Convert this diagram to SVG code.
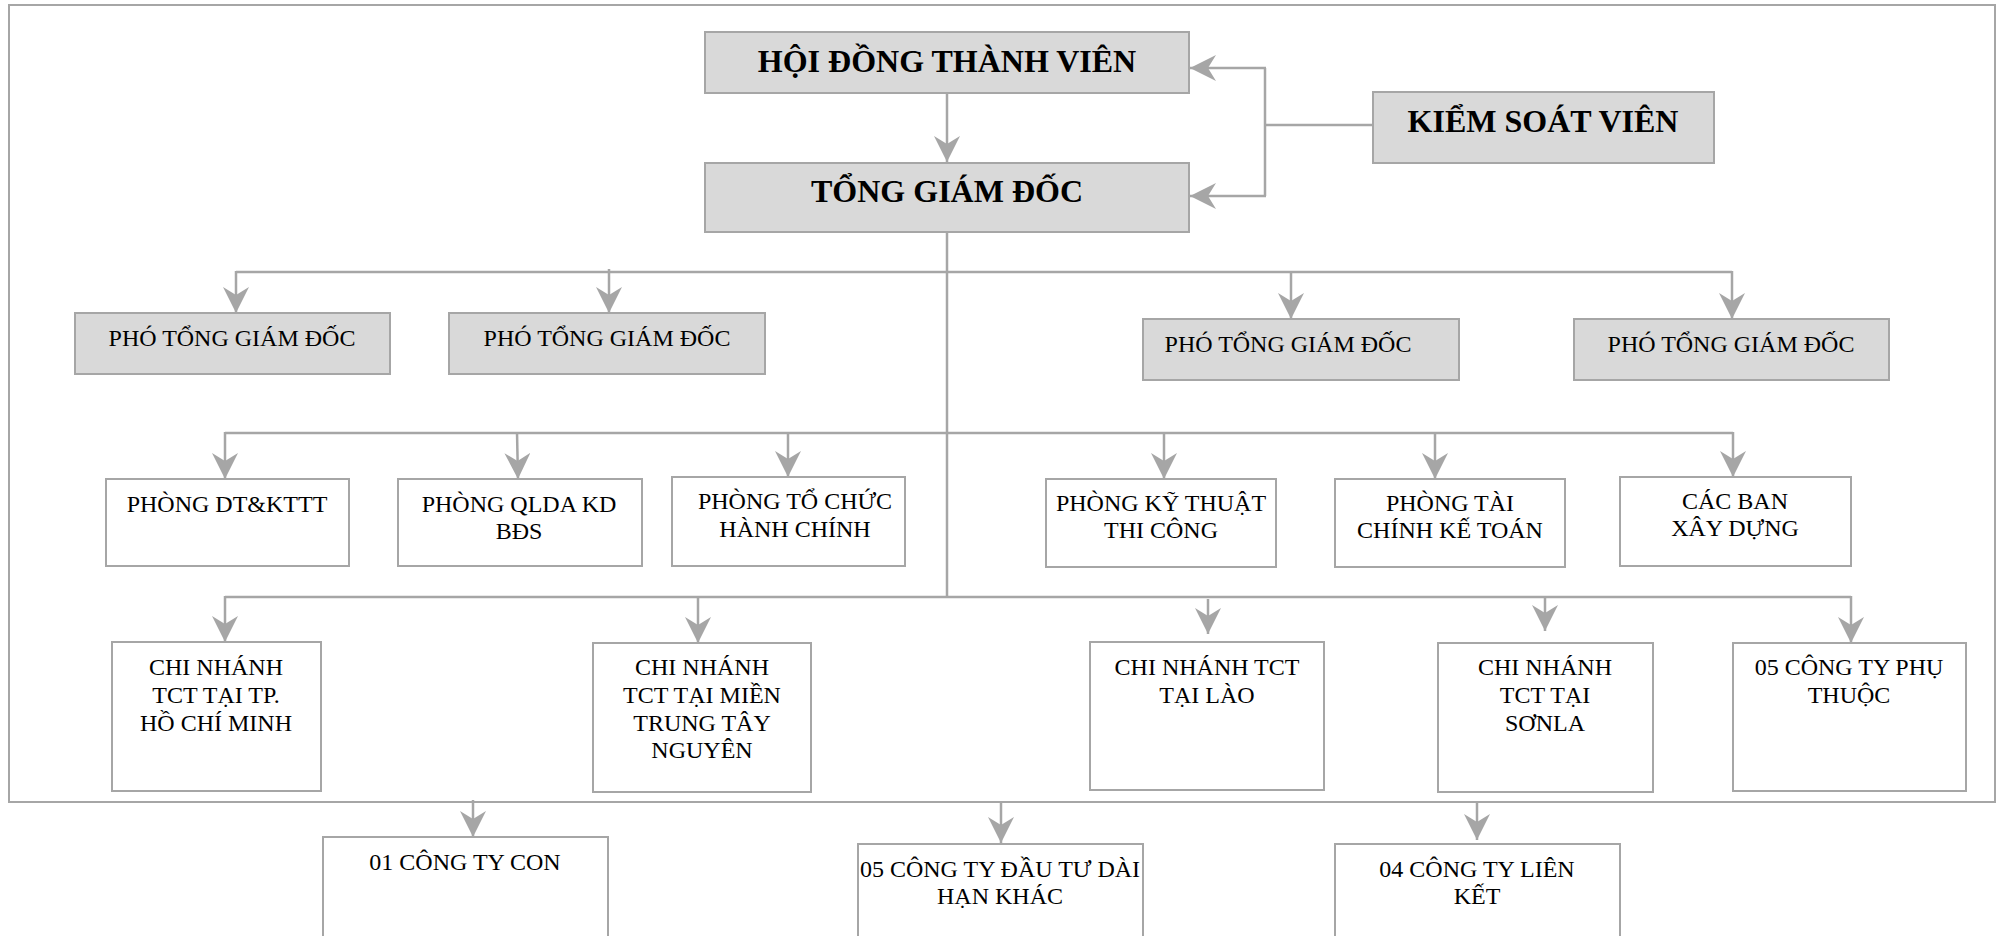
<svg xmlns="http://www.w3.org/2000/svg" width="2001" height="936" viewBox="0 0 2001 936">
<style>
.box{fill:#fff;stroke:#a6a6a6;stroke-width:2}
.gbox{fill:#d9d9d9;stroke:#a6a6a6;stroke-width:2}
.ln{fill:none;stroke:#a6a6a6;stroke-width:2.5}
.arr{fill:none;stroke:#a6a6a6;stroke-width:2.5;marker-end:url(#ah)}
.tb{font-family:"Liberation Serif","Times New Roman",serif;font-weight:bold;font-size:32px;fill:#000;text-anchor:middle}
.t{font-family:"Liberation Serif","Times New Roman",serif;font-size:24px;fill:#000;text-anchor:middle}
</style>
<defs>
<marker id="ah" markerUnits="userSpaceOnUse" viewBox="0 0 26 26" markerWidth="26" markerHeight="26" refX="26" refY="13" orient="auto">
<path d="M0,0 L26,13 L0,26 L8,13 Z" fill="#a6a6a6"/>
</marker>
</defs>
<rect x="0" y="0" width="2001" height="936" fill="#fff"/>
<rect id="frame" x="9" y="5" width="1986" height="797" fill="none" stroke="#a6a6a6" stroke-width="2"/>

<g id="connectors">
<line class="arr" x1="947" y1="93" x2="947" y2="162"/>
<line class="ln" x1="1373" y1="125" x2="1265" y2="125"/>
<line class="ln" x1="1265" y1="68" x2="1265" y2="196"/>
<line class="arr" x1="1266" y1="68" x2="1190" y2="68"/>
<line class="arr" x1="1266" y1="196" x2="1190" y2="196"/>
<line class="ln" x1="947" y1="232" x2="947" y2="597"/>
<line class="ln" x1="236" y1="272" x2="1732" y2="272"/>
<line class="arr" x1="236" y1="271" x2="236" y2="313"/>
<line class="arr" x1="609" y1="269" x2="609" y2="313"/>
<line class="arr" x1="1291" y1="271" x2="1291" y2="319"/>
<line class="arr" x1="1732" y1="271" x2="1732" y2="319"/>
<line class="ln" x1="225" y1="433" x2="1733" y2="433"/>
<line class="arr" x1="225" y1="432" x2="225" y2="479"/>
<line class="arr" x1="517" y1="432" x2="518" y2="479"/>
<line class="arr" x1="788" y1="432" x2="788" y2="477"/>
<line class="arr" x1="1164" y1="432" x2="1164" y2="479"/>
<line class="arr" x1="1435" y1="432" x2="1435" y2="479"/>
<line class="arr" x1="1733" y1="432" x2="1733" y2="477"/>
<line class="ln" x1="225" y1="597" x2="1851" y2="597"/>
<line class="arr" x1="225" y1="596" x2="225" y2="642"/>
<line class="arr" x1="698" y1="596" x2="698" y2="643"/>
<line class="arr" x1="1208" y1="599" x2="1208" y2="634"/>
<line class="arr" x1="1545" y1="596" x2="1545" y2="631"/>
<line class="arr" x1="1851" y1="596" x2="1851" y2="643"/>
<line class="arr" x1="473" y1="800" x2="473" y2="837"/>
<line class="arr" x1="1001" y1="802" x2="1001" y2="843"/>
<line class="arr" x1="1477" y1="802" x2="1477" y2="840"/>
</g>

<g id="hdtv"><rect class="gbox" x="705" y="32" width="484" height="61"/><text class="tb" x="947" y="72">HỘI ĐỒNG THÀNH VIÊN</text></g>
<g id="tgd"><rect class="gbox" x="705" y="163" width="484" height="69"/><text class="tb" x="947" y="202">TỔNG GIÁM ĐỐC</text></g>
<g id="ksv"><rect class="gbox" x="1373" y="92" width="341" height="71"/><text class="tb" x="1543" y="132">KIỂM SOÁT VIÊN</text></g>

<g id="ptgd1"><rect class="gbox" x="75" y="313" width="315" height="61"/><text class="t" x="232" y="346">PHÓ TỔNG GIÁM ĐỐC</text></g>
<g id="ptgd2"><rect class="gbox" x="449" y="313" width="316" height="61"/><text class="t" x="607" y="346">PHÓ TỔNG GIÁM ĐỐC</text></g>
<g id="ptgd3"><rect class="gbox" x="1143" y="319" width="316" height="61"/><text class="t" x="1288" y="352">PHÓ TỔNG GIÁM ĐỐC</text></g>
<g id="ptgd4"><rect class="gbox" x="1574" y="319" width="315" height="61"/><text class="t" x="1731" y="352">PHÓ TỔNG GIÁM ĐỐC</text></g>

<g id="p1"><rect class="box" x="106" y="479" width="243" height="87"/><text class="t" x="227" y="512">PHÒNG DT&amp;KTTT</text></g>
<g id="p2"><rect class="box" x="398" y="479" width="244" height="87"/><text class="t" x="519" y="512">PHÒNG QLDA KD</text><text class="t" x="519" y="539">BĐS</text></g>
<g id="p3"><rect class="box" x="672" y="477" width="233" height="89"/><text class="t" x="795" y="509">PHÒNG TỔ CHỨC</text><text class="t" x="795" y="537">HÀNH CHÍNH</text></g>
<g id="p4"><rect class="box" x="1046" y="479" width="230" height="88"/><text class="t" x="1161" y="511">PHÒNG KỸ THUẬT</text><text class="t" x="1161" y="538">THI CÔNG</text></g>
<g id="p5"><rect class="box" x="1335" y="479" width="230" height="88"/><text class="t" x="1450" y="511">PHÒNG TÀI</text><text class="t" x="1450" y="538">CHÍNH KẾ TOÁN</text></g>
<g id="p6"><rect class="box" x="1620" y="477" width="231" height="89"/><text class="t" x="1735" y="509">CÁC BAN</text><text class="t" x="1735" y="536">XÂY DỰNG</text></g>

<g id="cn1"><rect class="box" x="112" y="642" width="209" height="149"/><text class="t" x="216" y="675">CHI NHÁNH</text><text class="t" x="216" y="703">TCT TẠI TP.</text><text class="t" x="216" y="731">HỒ CHÍ MINH</text></g>
<g id="cn2"><rect class="box" x="593" y="643" width="218" height="149"/><text class="t" x="702" y="675">CHI NHÁNH</text><text class="t" x="702" y="703">TCT TẠI MIỀN</text><text class="t" x="702" y="731">TRUNG TÂY</text><text class="t" x="702" y="758">NGUYÊN</text></g>
<g id="cn3"><rect class="box" x="1090" y="642" width="234" height="148"/><text class="t" x="1207" y="675">CHI NHÁNH TCT</text><text class="t" x="1207" y="703">TẠI LÀO</text></g>
<g id="cn4"><rect class="box" x="1438" y="643" width="215" height="149"/><text class="t" x="1545" y="675">CHI NHÁNH</text><text class="t" x="1545" y="703">TCT TẠI</text><text class="t" x="1545" y="731">SƠNLA</text></g>
<g id="cn5"><rect class="box" x="1733" y="643" width="233" height="148"/><text class="t" x="1849" y="675">05 CÔNG TY PHỤ</text><text class="t" x="1849" y="703">THUỘC</text></g>

<g id="ctcon"><rect class="box" x="323" y="837" width="285" height="120"/><text class="t" x="465" y="870">01 CÔNG TY CON</text></g>
<g id="ctdt"><rect class="box" x="858" y="844" width="285" height="120"/><text class="t" x="1000" y="877">05 CÔNG TY ĐẦU TƯ DÀI</text><text class="t" x="1000" y="904">HẠN KHÁC</text></g>
<g id="ctlk"><rect class="box" x="1335" y="844" width="285" height="120"/><text class="t" x="1477" y="877">04 CÔNG TY LIÊN</text><text class="t" x="1477" y="904">KẾT</text></g>
</svg>
